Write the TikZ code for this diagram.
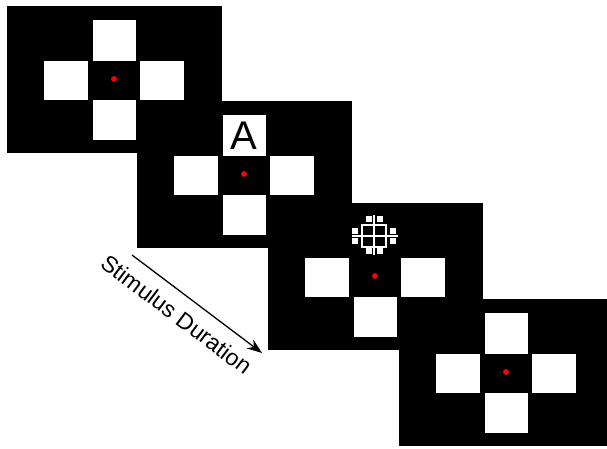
\documentclass[tikz,border=0pt]{standalone}
\usepackage{fontspec}
\setsansfont{Liberation Sans}
\usetikzlibrary{arrows.meta,calc,positioning}

\begin{document}
\begin{tikzpicture}[x=1pt,y=-1pt,
  panel/.style={fill=black},
  hole/.style={fill=white},
  fixdot/.style={fill=red},
  grid/.style={draw=white,line width=1.3pt}]
\useasboundingbox (0,0) rectangle (607,449);
\clip (0,0) rectangle (607,449);
\coordinate (C1) at (114,79);
\coordinate (C2) at (244,174);
\coordinate (C3) at (375,276);
\coordinate (C4) at (506,372);
\coordinate (T0) at (132,255);
\coordinate (T1) at (262,353);
% screens, oldest first
\foreach \c in {C1,C2,C3,C4} {
  \fill[panel] ($(\c)+(-107.5,-73)$) rectangle ($(\c)+(107.5,74)$);
  \fill[hole] ($(\c)+(-70,-18)$) rectangle ($(\c)+(-26,21)$);
  \fill[hole] ($(\c)+(26,-18)$) rectangle ($(\c)+(70,21)$);
  \fill[hole] ($(\c)+(-21.5,21)$) rectangle ($(\c)+(21.5,61)$);
  \fill[fixdot] (\c) circle (2.9);
}
\foreach \c in {C1,C2,C4}
  \fill[hole] ($(\c)+(-21.5,-59)$) rectangle ($(\c)+(21.5,-18)$);
\node (A) at ($(C2)+(0,-38.5)$) {\sffamily\fontsize{40}{40}\selectfont A};
% masking pattern
\begin{scope}[shift={($(C3)+(-1,-40)$)}]
\draw[grid] (-12,-11) rectangle (12,11);
\draw[grid] (0,-21) -- (0,19);
\draw[grid] (-22,0) -- (24,0);
\foreach \x/\y in {-8/-20,3/-20,-8/12,3/12,-22/-8,-22/2,16/-8,16/2}
  \fill[hole] (\x,\y) rectangle ++(5.5,5.5);
\end{scope}
\draw[line width=1.3pt,-{Stealth[length=15pt,width=11pt]}] (T0) -- node[pos=0.44,sloped,below=8pt] {\sffamily\fontsize{23}{23}\selectfont Stimulus Duration} (T1);
\end{tikzpicture}
\end{document}
